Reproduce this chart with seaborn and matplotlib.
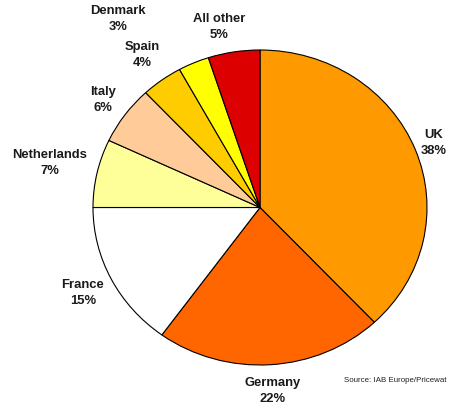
import numpy as np
import matplotlib
matplotlib.use("Agg")
import matplotlib.pyplot as plt
import seaborn as sns

# Market share by country
countries = ["UK", "Germany", "France", "Netherlands", "Italy", "Spain", "Denmark", "All other"]
shares = [38, 22, 15, 7, 6, 4, 3, 5]
colors = ["#FF9900", "#FF6600", "#FFFFFF", "#FFFF99", "#FFCC99", "#FFCC00", "#FFFF00", "#DD0000"]

# label placement: radial distance and angular nudge (degrees) per slice
label_dist = [1.12, 1.17, 1.19, 1.29, 1.16, 1.20, 1.47, 1.17]
label_nudge = [0, 0, 0, 0, 0, 0, 12, 3]

sns.set_theme(style="white")
plt.rcParams["font.family"] = ["Liberation Sans", "DejaVu Sans"]

fig = plt.figure(figsize=(4.49, 4.08), dpi=100)
fig.patch.set_facecolor("white")
ax = fig.add_axes([93 / 449, 43 / 408, 334 / 449, 315 / 408])

wedges, _ = ax.pie(
    shares,
    colors=colors,
    startangle=90,
    counterclock=False,
    wedgeprops=dict(edgecolor="black", linewidth=0.8),
)
ax.set_aspect("auto")
ax.set_xlim(-1, 1)
ax.set_ylim(-1, 1)
ax.axis("off")

for w, name, val, d, nudge in zip(wedges, countries, shares, label_dist, label_nudge):
    mid = np.deg2rad((w.theta1 + w.theta2) / 2 + nudge)
    ax.text(d * np.cos(mid), d * np.sin(mid), f"{name}\n{val}%",
            ha="center", va="center", fontsize=9.4, fontweight="bold",
            color="#1a1a1a", linespacing=1.45, clip_on=False)

fig.text(447 / 449, 1 - 380 / 408, "Source: IAB Europe/Pricewat",
         ha="right", va="center", fontsize=5.7, color="#222222")

fig.savefig("out.png", dpi=100, facecolor="white")
